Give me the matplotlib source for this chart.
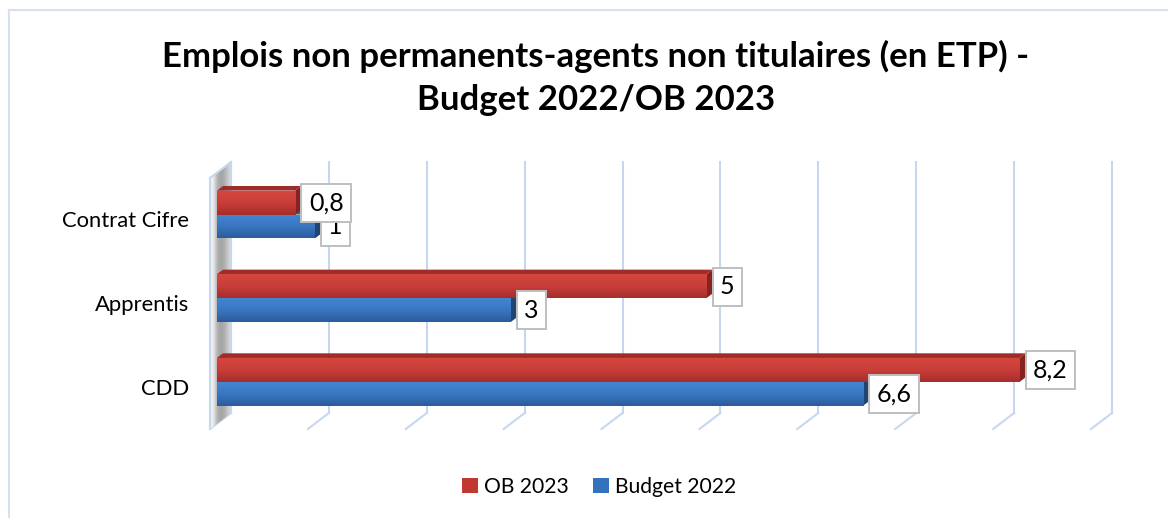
import numpy as np
import matplotlib
matplotlib.use('Agg')
import matplotlib.pyplot as plt
from matplotlib.patches import Polygon, Patch
from matplotlib.transforms import IdentityTransform, ScaledTranslation
from matplotlib.lines import Line2D
from matplotlib.colors import to_rgb

# ---------------- data ----------------
categories = ['CDD', 'Apprentis', 'Contrat Cifre']
ob2023 = [8.2, 5, 0.8]
budget2022 = [6.6, 3, 1]
ob2023_labels = ['8,2', '5', '0,8']
budget2022_labels = ['6,6', '3', '1']
series_names = ['OB 2023', 'Budget 2022']
title = 'Emplois non permanents-agents non titulaires (en ETP) -\nBudget 2022/OB 2023'
x_ticks = list(range(0, 10))

# ---------------- style ----------------
plt.rcParams['font.family'] = ['Lato', 'DejaVu Sans']
W, H = 1168, 518
fig = plt.figure(figsize=(W / 100, H / 100), dpi=100)
fig.patch.set_facecolor('white')

ax = fig.add_axes([210 / W, (H - 429) / H, (1091 - 210) / W, (429 - 178) / H])
ax.set_xlim(x_ticks[0], x_ticks[-1])
ax.set_ylim(-0.5, len(categories) - 0.5)
ax.set_autoscale_on(False)
ax.axis('off')

DEPTH = np.array([21.0, 16.0])   # pixel vector of full wall depth
D_FRONT, D_BACK = 0.33, 0.62      # bar depth positions
grid_c = '#c6d8ef'
ID = IdentityTransform()


def pt(x, y, d):
    return ax.transData.transform((x, y)) + d * DEPTH


def off(d):
    v = d * DEPTH / fig.dpi
    return ax.transData + ScaledTranslation(v[0], v[1], fig.dpi_scale_trans)


def line(p, q, **kw):
    ax.add_line(Line2D([p[0], q[0]], [p[1], q[1]], transform=ID, clip_on=False, **kw))


def poly(pts, **kw):
    p = Polygon(pts, closed=True, transform=ID, clip_on=False, **kw)
    ax.add_patch(p)
    return p


def gradient_image(colors, extent, clip, horizontal=False, z=2):
    cols = np.array([to_rgb(c) for c in colors])
    n = 64
    t = np.linspace(0, 1, n)
    xs = np.linspace(0, 1, len(cols))
    g = np.stack([np.interp(t, xs, cols[:, k]) for k in range(3)], axis=-1)
    arr = g[None, :, :] if horizontal else g[:, None, :]
    im = ax.imshow(arr, extent=extent, transform=ID, aspect='auto',
                   origin='upper', interpolation='bilinear', zorder=z)
    im.set_clip_box(fig.bbox)
    im.set_clip_path(clip)
    return im


y0, y1 = -0.5, len(categories) - 0.5

# --- gridlines ---
lw_g = 1.5
for v in x_ticks:
    line(pt(v, y0, 1), pt(v, y1, 1), color=grid_c, lw=lw_g, zorder=0.5)
    line(pt(v, y0, 0), pt(v, y0, 1), color=grid_c, lw=lw_g, zorder=0.5)

# --- left wall (grey shaded) ---
wall = [pt(0, y0, 0), pt(0, y1, 0), pt(0, y1, 1), pt(0, y0, 1)]
wall_poly = poly(wall, fc='#d8d8d8', ec='none', zorder=1)
xs_w = [p[0] for p in wall]
ys_w = [p[1] for p in wall]
gradient_image(['#f8f8f8', '#e8e8e8', '#b6b6b6', '#a4a4a4', '#acacac', '#c4c4c4', '#dcdcdc'],
               (min(xs_w), max(xs_w), min(ys_w), max(ys_w)), wall_poly,
               horizontal=True, z=1.1)
line(pt(0, y0, 0), pt(0, y1, 0), color=grid_c, lw=lw_g, zorder=1.5)
line(pt(0, y1, 0), pt(0, y1, 1), color=grid_c, lw=lw_g, zorder=1.5)
line(pt(0, y0, 1), pt(0, y1, 1), color=grid_c, lw=lw_g, zorder=1.5)

# --- bars ---
bar_h = 0.286
ypos = np.arange(len(categories))
series = [
    (budget2022, budget2022_labels, -bar_h / 2,
     ['#4386d3', '#3a76c0', '#2b5c9b'], '#3266ac', '#1f4673'),
    (ob2023, ob2023_labels, bar_h / 2,
     ['#d5473f', '#c93d39', '#a62e2b'], '#a02c29', '#86231f'),
]

z = 3
for vals, labs, shift, grad, top_c, side_c in series:
    bars = ax.barh(ypos + shift, vals, height=bar_h, color=grad[1],
                   transform=off(D_FRONT), zorder=z, linewidth=0)
    for rect, v, lab in zip(bars, vals, labs):
        ya, yb = rect.get_y(), rect.get_y() + rect.get_height()
        fa, fb = pt(0, ya, D_FRONT), pt(v, yb, D_FRONT)
        gradient_image(grad, (fa[0], fb[0], fa[1], fb[1]), rect, z=z + 0.1)
        top = [pt(0, yb, D_FRONT), pt(v, yb, D_FRONT), pt(v, yb, D_BACK), pt(0, yb, D_BACK)]
        poly(top, fc=top_c, ec='none', zorder=z + 0.05)
        side = [pt(v, ya, D_FRONT), pt(v, ya, D_BACK), pt(v, yb, D_BACK), pt(v, yb, D_FRONT)]
        poly(side, fc=side_c, ec='none', zorder=z + 0.05)
    z += 1

# --- data labels ---
zl = 10
for vals, labs, shift, *_ in series:
    for yi, v, lab in zip(ypos, vals, labs):
        ax.annotate(lab, xy=(v, yi + shift), xycoords='data',
                    xytext=(14.8, 3.6), textcoords='offset points',
                    ha='left', va='center', fontsize=18, color='black',
                    zorder=zl,
                    bbox=dict(boxstyle='square,pad=0.3', fc='white',
                              ec='#bfbfbf', lw=1.4),
                    annotation_clip=False)
        zl += 1

# --- category labels ---
for yi, cat in zip(ypos, categories):
    ax.annotate(cat, xy=(0, yi), xycoords='data', xytext=(-15, -1),
                textcoords='offset points', ha='right', va='center',
                fontsize=15.8, color='black', annotation_clip=False)

# --- title ---
fig.text(596 / W, 1 - 78 / H, title, ha='center', va='center',
         fontsize=25, fontweight='bold', linespacing=1.45, color='black')

# --- legend ---
handles = [Patch(fc='#c0392f', ec='none'), Patch(fc='#3572bd', ec='none')]
fig.legend(handles, series_names, loc='center', bbox_to_anchor=(599 / W, 1 - 487 / H),
           ncol=2, frameon=False, fontsize=15.2, handlelength=0.75, handleheight=0.75,
           handletextpad=0.3, columnspacing=1.15)

# --- chart area border (top & left visible) ---
bc = '#d6e0ef'
fig.add_artist(Line2D([9, W], [H - 10, H - 10], transform=ID, color=bc, lw=1.5))
fig.add_artist(Line2D([9, 9], [0, H - 10], transform=ID, color=bc, lw=1.5))

ax.set_xlim(x_ticks[0], x_ticks[-1])
ax.set_ylim(-0.5, len(categories) - 0.5)
fig.savefig('out.png', dpi=100)
